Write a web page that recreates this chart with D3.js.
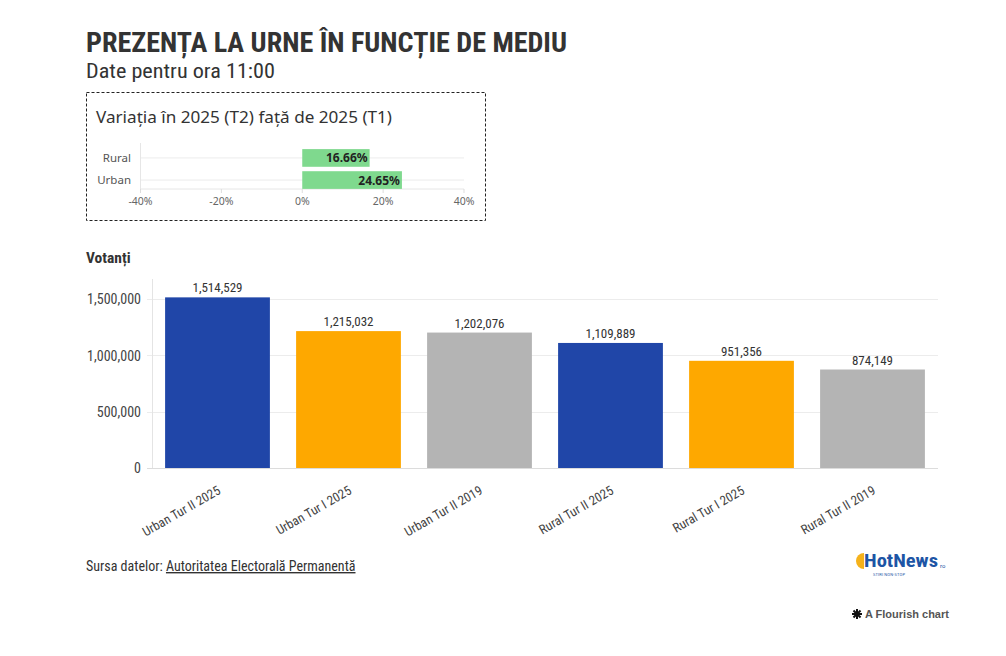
<!DOCTYPE html>
<html>
<head>
<meta charset="utf-8">
<script src="https://cdn.jsdelivr.net/npm/d3@7"></script>
<style>
  html, body { margin: 0; padding: 0; background: #fff; }
  svg { display: block; }
</style>
</head>
<body>
<svg id="chart" width="1006" height="656"></svg>
<script>
// ---- Data ----
const titleText = "PREZENȚA LA URNE ÎN FUNCȚIE DE MEDIU";
const subtitleText = "Date pentru ora 11:00";
const insetTitle = "Variația în 2025 (T2) față de 2025 (T1)";

const varCategories = ["Rural", "Urban"];
const varValues = [16.66, 24.65];
const varTicks = [-40, -20, 0, 20, 40];

const categories = ["Urban Tur II 2025", "Urban Tur I 2025", "Urban Tur II 2019",
                    "Rural Tur II 2025", "Rural Tur I 2025", "Rural Tur II 2019"];
const voters = [1514529, 1215032, 1202076, 1109889, 951356, 874149];
const barColors = ["#2046a8", "#fea800", "#b4b4b4", "#2046a8", "#fea800", "#b4b4b4"];
const yTicks = [0, 500000, 1000000, 1500000];

const svg = d3.select("#chart");
const cond = "'Roboto Condensed', 'Liberation Sans Narrow', Roboto, sans-serif";
const insetFont = "'Source Sans Pro', 'Noto Sans', 'Open Sans', sans-serif";

// ---- Titles ----
svg.append("text").attr("x", 86).attr("y", 52)
  .attr("font-family", cond).attr("font-weight", 700).attr("font-size", 28)
  .attr("fill", "#333").attr("textLength", 481).attr("lengthAdjust", "spacingAndGlyphs")
  .text(titleText);
svg.append("text").attr("x", 86).attr("y", 78)
  .attr("font-family", cond).attr("font-weight", 400).attr("font-size", 20)
  .attr("fill", "#333").attr("textLength", 189).attr("lengthAdjust", "spacingAndGlyphs")
  .text(subtitleText);

// ---- Inset box ----
svg.append("rect").attr("x", 86.5).attr("y", 92.5).attr("width", 399).attr("height", 128)
  .attr("fill", "none").attr("stroke", "#222").attr("stroke-width", 1).attr("stroke-dasharray", "3,2");
svg.append("text").attr("x", 96).attr("y", 123)
  .attr("font-family", insetFont).attr("font-size", 16).attr("fill", "#333")
  .attr("textLength", 296).attr("lengthAdjust", "spacingAndGlyphs")
  .text(insetTitle);

const xv = d3.scaleLinear().domain([-40, 40]).range([140.5, 464]);
const yv = d3.scaleBand().domain(varCategories).range([148, 190]).paddingInner(0.2).paddingOuter(0.05);
const inset = svg.append("g");
inset.selectAll(".hg").data(varCategories).join("line")
  .attr("x1", xv(-40)).attr("x2", xv(40))
  .attr("y1", d => yv(d) + yv.bandwidth() / 2).attr("y2", d => yv(d) + yv.bandwidth() / 2)
  .attr("stroke", "#ececec");
inset.append("line").attr("x1", xv(-40)).attr("x2", xv(40)).attr("y1", 189).attr("y2", 189).attr("stroke", "#e6e6e6");
inset.append("line").attr("x1", xv(-40)).attr("x2", xv(-40)).attr("y1", 143).attr("y2", 193).attr("stroke", "#e6e6e6");
inset.selectAll(".tk").data(varTicks).join("line")
  .attr("x1", d => xv(d)).attr("x2", d => xv(d)).attr("y1", 189).attr("y2", 193).attr("stroke", "#ddd");
inset.selectAll(".tl").data(varTicks).join("text")
  .attr("x", d => xv(d)).attr("y", 205).attr("text-anchor", "middle")
  .attr("font-family", insetFont).attr("font-size", 10.5).attr("fill", "#666")
  .text(d => d + "%");
inset.selectAll(".cl").data(varCategories).join("text")
  .attr("x", 131).attr("y", d => yv(d) + yv.bandwidth() / 2 + 4).attr("text-anchor", "end")
  .attr("font-family", insetFont).attr("font-size", 11.5).attr("fill", "#555")
  .text(d => d);
inset.selectAll(".vb").data(varValues).join("rect")
  .attr("x", xv(0)).attr("y", (d, i) => yv(varCategories[i]))
  .attr("width", d => xv(d) - xv(0)).attr("height", yv.bandwidth())
  .attr("fill", "#7fd98e");
inset.selectAll(".vl").data(varValues).join("text")
  .attr("x", d => xv(d) - 2).attr("y", (d, i) => yv(varCategories[i]) + yv.bandwidth() / 2 + 4.5)
  .attr("text-anchor", "end").attr("font-family", insetFont).attr("font-weight", 700)
  .attr("font-size", 12).attr("fill", "#222")
  .text(d => d.toFixed(2) + "%");

// ---- Main chart ----
svg.append("text").attr("x", 86).attr("y", 263)
  .attr("font-family", cond).attr("font-weight", 700).attr("font-size", 15.5).attr("fill", "#333")
  .text("Votanți");

const x = d3.scaleBand().domain(categories).range([152, 938]).paddingInner(0.2).paddingOuter(0.1);
const y = d3.scaleLinear().domain([0, 1500000]).range([468, 299]);
const g = svg.append("g");

g.selectAll(".grid").data(yTicks).join("line")
  .attr("x1", 147).attr("x2", 938).attr("y1", d => Math.round(y(d)) + 0.5).attr("y2", d => Math.round(y(d)) + 0.5)
  .attr("stroke", d => d === 0 ? "#dcdcdc" : "#ececec");
g.append("line").attr("x1", 152.5).attr("x2", 152.5).attr("y1", 279).attr("y2", 468).attr("stroke", "#e4e4e4");

const yAxis = d3.axisLeft(y).tickValues(yTicks).tickFormat(d3.format(",")).tickSize(0).tickPadding(0);
const ya = g.append("g").attr("transform", "translate(141,0)").call(yAxis);
ya.select(".domain").remove();
ya.selectAll("text").attr("font-family", cond).attr("font-size", 14).attr("fill", "#444").attr("dy", "0.35em");

g.selectAll(".bar").data(voters).join("rect")
  .attr("x", (d, i) => x(categories[i])).attr("y", d => y(d))
  .attr("width", x.bandwidth()).attr("height", d => y(0) - y(d))
  .attr("fill", (d, i) => barColors[i]);

g.selectAll(".val").data(voters).join("text")
  .attr("x", (d, i) => x(categories[i]) + x.bandwidth() / 2).attr("y", d => y(d) - 5)
  .attr("text-anchor", "middle").attr("font-family", cond).attr("font-size", 13).attr("fill", "#333")
  .text(d => d3.format(",")(d));

const xAxis = d3.axisBottom(x).tickSize(0).tickPadding(0);
const xa = g.append("g").attr("transform", "translate(0,468)").call(xAxis);
xa.select(".domain").remove();
xa.selectAll("text")
  .attr("font-family", cond).attr("font-size", 13).attr("fill", "#444")
  .attr("text-anchor", "end").attr("dy", 0).attr("y", 0)
  .attr("transform", "translate(4,25) rotate(-30)");

// ---- Footer ----
const src = svg.append("text").attr("x", 86).attr("y", 571)
  .attr("font-family", cond).attr("font-size", 14).attr("fill", "#333");
src.append("tspan").text("Sursa datelor: ");
src.append("tspan").attr("text-decoration", "underline").text("Autoritatea Electorală Permanentă");

// HotNews logo
const logo = svg.append("g").attr("transform", "translate(857,552)");
logo.append("path").attr("d", "M7,1 A8,8 0 0 0 7,17 L7,1 Z").attr("fill", "#f5b21b");
logo.append("text").attr("x", 7).attr("y", 15).attr("font-family", cond)
  .attr("font-weight", 700).attr("font-size", 19).attr("fill", "#1d55a5")
  .attr("textLength", 74).attr("lengthAdjust", "spacingAndGlyphs").text("HotNews");
logo.append("text").attr("x", 83).attr("y", 16).attr("font-family", "Roboto, sans-serif")
  .attr("font-size", 6).attr("fill", "#1d55a5").text("ro");
logo.append("text").attr("x", 16).attr("y", 24).attr("font-family", "Roboto, sans-serif")
  .attr("font-size", 4).attr("fill", "#1d55a5").attr("textLength", 32).text("STIRI NON-STOP");

// Flourish credit
const fl = svg.append("g").attr("transform", "translate(857,614)");
[0, 45, 90, 135].forEach(a => {
  fl.append("line").attr("x1", -5).attr("x2", 5).attr("y1", 0).attr("y2", 0)
    .attr("stroke", "#111").attr("stroke-width", 2).attr("transform", `rotate(${a})`);
});
svg.append("text").attr("x", 865).attr("y", 618)
  .attr("font-family", "'Liberation Sans', Arial, sans-serif").attr("font-weight", 700)
  .attr("font-size", 11).attr("fill", "#555").text("A Flourish chart");
</script>
</body>
</html>
